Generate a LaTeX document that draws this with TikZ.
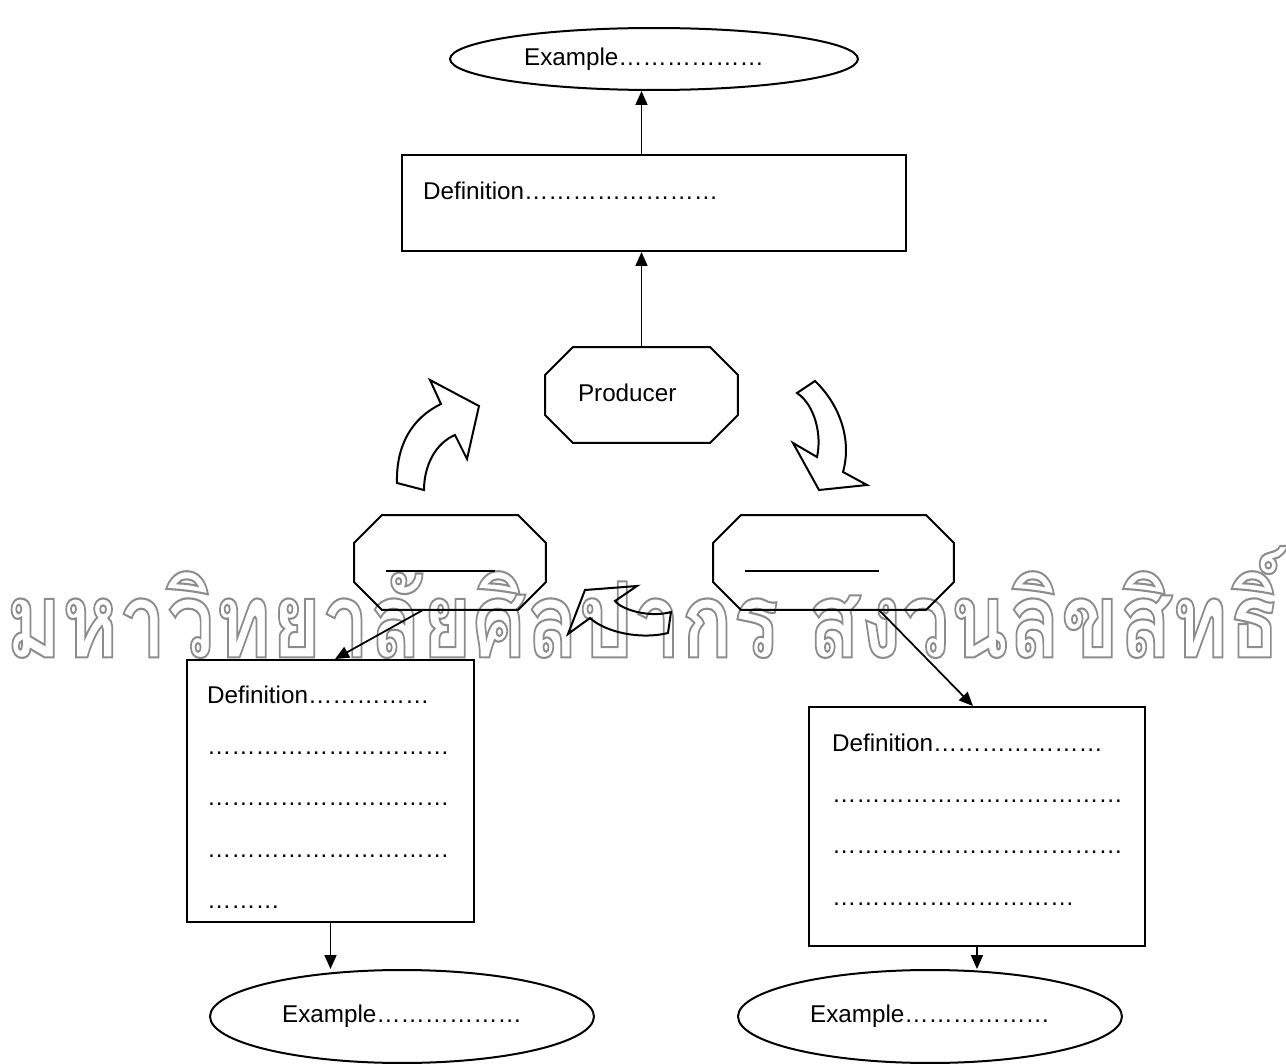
\documentclass[tikz,border=0pt]{standalone}
\usepackage{fontspec}
\setmainfont{Liberation Sans}
\newfontfamily\thaifont[Script=Thai]{Loma}
\usepackage{graphicx}
\usetikzlibrary{arrows.meta, shapes.geometric}

% a row of n ellipsis characters
\newcommand{\fillin}[1]{\foreach \k in {1,...,#1}{…}}
% hollow (stroked) letters
\newcommand{\hollow}[1]{\special{pdf:literal direct 1 Tr 1.6 w}#1\special{pdf:literal direct 0 Tr}}

\tikzset{
  defbox/.style={draw, line width=0.4mm, rectangle, align=left, inner ysep=0pt},
  octbox/.style={rectangle, outer sep=0pt, align=left, inner ysep=0pt},
  octline/.style={-, draw, line width=0.4mm, line join=miter},
  exbox/.style={draw, line width=0.4mm, ellipse, inner sep=0pt},
  blockarrow/.style={-, draw, line width=0.4mm, line join=miter}
}

\begin{document}
\begin{tikzpicture}[x=0.02cm, y=-0.02cm,
        ->,
        >={Triangle[width=2.4mm,length=2.8mm]},
        line width=0.35mm,
        font=\fontsize{13.8}{29.3}\selectfont]
        \useasboundingbox (0,0) rectangle (1286,1064);
        % watermark
        \node at (643,602) (wmark) [inner sep=0pt, text=black!45] {\resizebox*{25.5cm}{2.24cm}{\hollow{\thaifont\bfseries\fontsize{80}{80}\selectfont มหาวิทยาลัยศิลปากร สงวนลิขสิทธิ์}}};

        \node at (654,59) (exTop) [exbox, minimum width=81.6mm, minimum height=12.4mm] {Example\fillin{6}\kern4mm};
        \node at (654,203) (defTop) [defbox, minimum width=100.8mm, minimum height=19.2mm, text width=92.4mm, inner xsep=4.2mm, text height=9mm, text depth=10.2mm] {Definition\fillin{8}};
        \node at (641.5,395) (prod) [octbox, minimum width=38.6mm, minimum height=19.2mm, text width=25.4mm, inner xsep=6.6mm, text height=4mm, text depth=1.32mm] {Producer};
        \node at (450,562.5) (octL) [octbox, minimum width=38.4mm, minimum height=19mm, text width=25.6mm, inner xsep=6.4mm, text height=4mm, text depth=0.2mm] {\rule{21.8mm}{0.3mm}};
        \node at (833.5,562.5) (octR) [octbox, minimum width=48.2mm, minimum height=19mm, text width=35.4mm, inner xsep=6.4mm, text height=4mm, text depth=0.2mm] {\rule{26.8mm}{0.3mm}};
        \node at (330.5,791) (defL) [defbox, minimum width=57.4mm, minimum height=52.4mm, text width=49.4mm, inner xsep=4mm, text height=8.6mm, text depth=43.8mm] {Definition\fillin{5}\\ \fillin{10}\\ \fillin{10}\\ \fillin{10}\\ \fillin{3}};
        \node at (977,826.5) (defR) [defbox, minimum width=67.2mm, minimum height=47.8mm, text width=58mm, inner xsep=4.6mm, text height=8.8mm, text depth=39mm] {Definition\fillin{7}\\ \fillin{12}\\ \fillin{12}\\ \fillin{10}};
        \node at (402,1016.5) (exL) [exbox, minimum width=76.8mm, minimum height=18.6mm] {Example\fillin{6}};
        \node at (930,1016.5) (exR) [exbox, minimum width=76.8mm, minimum height=18.6mm] {Example\fillin{6}};

        % cut corners of the three octagons
        \foreach \n in {prod, octL, octR}
            \draw[octline] ([xshift=5.6mm]\n.north west) -- ([xshift=-5.6mm]\n.north east) -- ([yshift=-5.6mm]\n.north east) -- ([yshift=5.6mm]\n.south east) -- ([xshift=-5.6mm]\n.south east) -- ([xshift=5.6mm]\n.south west) -- ([yshift=5.6mm]\n.south west) -- ([yshift=-5.6mm]\n.north west) -- cycle;

        \draw (prod) -- (prod |- defTop.south);
        \draw (defTop.north -| prod) -- (exTop.south -| prod);
        \draw ([xshift=-5.4mm]octL.south) -- ([xshift=0.9mm]defL.north);
        \draw ([xshift=9.1mm]octR.south) -- ([xshift=-0.8mm]defR.north);
        \draw (defL.south) -- (defL.south |- exL.north);
        \draw (defR.south) -- (defR.south |- exR.north);

        % curved block arrows
        \draw[blockarrow] (397,483) .. controls (396,445) and (412,418) .. (441,404) -- (430,380) -- (479,406) -- (467,459) -- (455,435) .. controls (436,443) and (424,465) .. (424,490) -- cycle;
        \draw[blockarrow] (797,393) -- (815,381) .. controls (840,405) and (852,440) .. (843,472) -- (867,485) -- (819,490) -- (793,443) -- (817,457) .. controls (822,435) and (815,405) .. (797,393) -- cycle;
        \draw[blockarrow] (585,590) -- (637,586) -- (615,601) .. controls (622,610) and (650,618) .. (671,612) -- (668,633) .. controls (640,640) and (605,632) .. (590,618) -- (568,634) -- cycle;
\end{tikzpicture}
\end{document}
